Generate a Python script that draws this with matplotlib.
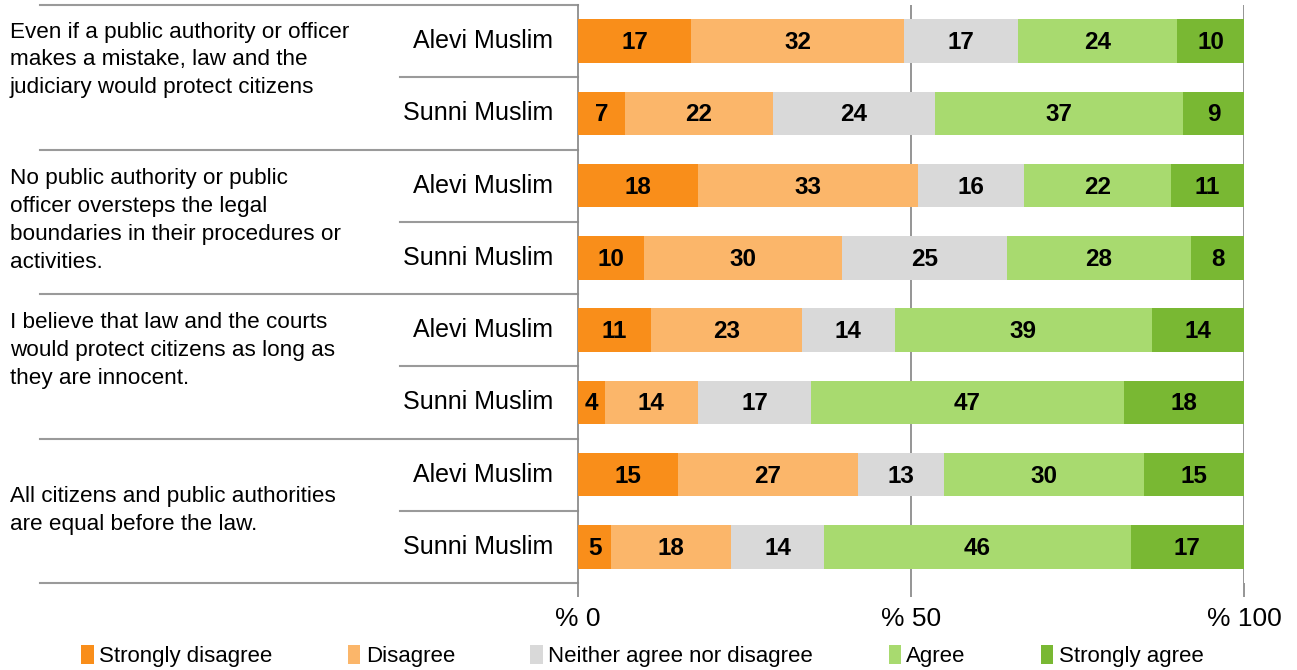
import matplotlib
matplotlib.use("Agg")
import matplotlib.pyplot as plt
import numpy as np
from matplotlib.patches import Patch

plt.rcParams['font.family'] = ['Liberation Sans', 'DejaVu Sans']

statements = [
    "Even if a public authority or officer\nmakes a mistake, law and the\njudiciary would protect citizens",
    "No public authority or public\nofficer oversteps the legal\nboundaries in their procedures or\nactivities.",
    "I believe that law and the courts\nwould protect citizens as long as\nthey are innocent.",
    "All citizens and public authorities\nare equal before the law.",
]
groups = ["Alevi Muslim", "Sunni Muslim"]
categories = ["Strongly disagree", "Disagree", "Neither agree nor disagree", "Agree", "Strongly agree"]
colors = ["#F98E1A", "#FBB66A", "#D9D9D9", "#A8DA6F", "#79B833"]

strongly_disagree = [17, 7, 18, 10, 11, 4, 15, 5]
disagree = [32, 22, 33, 30, 23, 14, 27, 18]
neither = [17, 24, 16, 25, 14, 17, 13, 14]
agree = [24, 37, 22, 28, 39, 47, 30, 46]
strongly_agree = [10, 9, 11, 8, 14, 18, 15, 17]

data = np.array([strongly_disagree, disagree, neither, agree, strongly_agree], dtype=float)
shares = data / data.sum(axis=0) * 100

W, H = 1297, 670
fig = plt.figure(figsize=(W / 100, H / 100), dpi=100)
ax = fig.add_axes([578 / W, 1 - 583 / H, 666 / W, 578 / H])

n = data.shape[1]
y = np.arange(n)
left = np.zeros(n)
for i in range(len(categories)):
    ax.barh(y, shares[i], left=left, height=0.6, color=colors[i], edgecolor='none', zorder=3)
    for j in range(n):
        ax.text(left[j] + shares[i][j] / 2, y[j] + 0.02, f"{int(data[i][j])}", ha='center', va='center',
                fontsize=17.5, fontweight='bold', color='black', zorder=4)
    left += shares[i]

ax.set_xlim(0, 100)
ax.set_ylim(n - 0.5, -0.5)
for s in ['top', 'right', 'bottom']:
    ax.spines[s].set_visible(False)
ax.spines['left'].set_color('#8C8C8C')
ax.spines['left'].set_linewidth(1.3)
ax.set_yticks([])
ax.set_xticks([0, 50, 100])
ax.set_xticklabels(["% 0", "% 50", "% 100"], fontsize=19)
ax.tick_params(axis='x', length=10, color='#8C8C8C', width=1.3, pad=7)
for xv in [50, 100]:
    ax.axvline(xv, color='#8C8C8C', lw=1.3, zorder=1)

tr = ax.get_yaxis_transform()
x_outer = (40 - 578) / 666
x_inner = (400 - 578) / 666
for k in range(len(statements) + 1):
    yy = 2 * k - 0.5
    ax.plot([x_outer, 0], [yy, yy], color='#9A9A9A', lw=1.5, transform=tr, clip_on=False)
for k in range(len(statements)):
    yy = 2 * k + 0.5
    ax.plot([x_inner, 0], [yy, yy], color='#9A9A9A', lw=1.5, transform=tr, clip_on=False)

for j in range(n):
    ax.text((553 - 578) / 666, y[j], groups[j % 2], transform=tr, ha='right', va='center',
            fontsize=18, clip_on=False)

stmt_y = [0.26, 2.48, 4.28, 6.5]
for k, s in enumerate(statements):
    ax.text((10 - 578) / 666, stmt_y[k], s, transform=tr, ha='left', va='center',
            fontsize=16.2, linespacing=1.43, clip_on=False)

handles = [Patch(facecolor=c, edgecolor='none') for c in colors]
fig.legend(handles, categories, loc='center', bbox_to_anchor=(0.4954, 1 - 656 / H), ncol=5,
           frameon=False, fontsize=16, handlelength=0.55, handleheight=0.9, handletextpad=0.25,
           columnspacing=3.4)

fig.savefig("out.png", dpi=100)
